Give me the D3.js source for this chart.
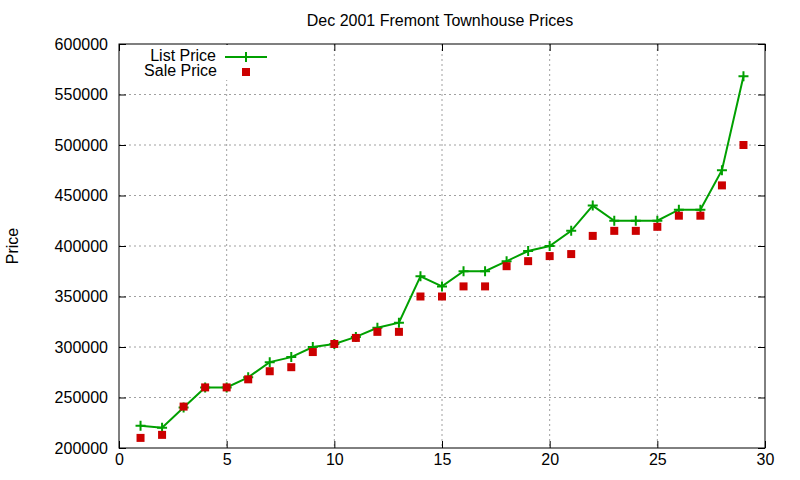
<!DOCTYPE html>
<html>
<head>
<meta charset="utf-8">
<script src="https://cdn.jsdelivr.net/npm/d3@7"></script>
<style>
body { margin: 0; background: #fff; }
text { font-family: "Liberation Sans", Arial, sans-serif; fill: #000; }
</style>
</head>
<body>
<div class="container"></div>
<script>
var days = d3.range(1, 30);
var listPrice = [222000, 220000, 240000, 260000, 260000, 270000, 285000, 290000, 300000, 303000,
    310000, 319000, 324000, 370000, 360000, 375000, 375000, 385000, 395000, 400000,
    415000, 440000, 425000, 425000, 425000, 436000, 436000, 475000, 568000];
var salePrice = [210000, 213000, 241000, 260000, 260000, 268000, 276000, 280000, 295000, 303000,
    309000, 315000, 315000, 350000, 350000, 360000, 360000, 380000, 385000, 390000,
    392000, 410000, 415000, 415000, 419000, 430000, 430000, 460000, 500000];
var xTicks = [0, 5, 10, 15, 20, 25, 30];
var yTicks = [200000, 250000, 300000, 350000, 400000, 450000, 500000, 550000, 600000];

var margin = { top: 44, right: 35, bottom: 32, left: 119 },
    width = 800 - margin.left - margin.right,
    height = 480 - margin.top - margin.bottom;

var svg = d3.select(".container")
    .append("svg")
    .attr("width", 800)
    .attr("height", 480);

var g = svg.append("g")
    .attr("transform", "translate(" + margin.left + "," + margin.top + ")");

var x = d3.scaleLinear().domain([0, 30]).range([0, width]);
var y = d3.scaleLinear().domain([200000, 600000]).range([height, 0]);

// grid
g.append("g")
    .selectAll("line")
    .data(xTicks.slice(1, -1))
    .enter()
    .append("line")
    .attr("x1", function (d) { return x(d); })
    .attr("x2", function (d) { return x(d); })
    .attr("y1", 0)
    .attr("y2", height)
    .attr("stroke", "#a0a0a0")
    .attr("stroke-dasharray", "2,3");
g.append("g")
    .selectAll("line")
    .data(yTicks.slice(1, -1))
    .enter()
    .append("line")
    .attr("x1", 0)
    .attr("x2", width)
    .attr("y1", function (d) { return y(d); })
    .attr("y2", function (d) { return y(d); })
    .attr("stroke", "#a0a0a0")
    .attr("stroke-dasharray", "2,3");

// axes with inward ticks
var ax = function (sel) { sel.select(".domain").remove(); sel.selectAll("text").style("font-size", "16px"); };
g.append("g")
    .attr("transform", "translate(0," + height + ")")
    .call(d3.axisBottom(x).tickValues(xTicks).tickSizeInner(-7).tickSizeOuter(0).tickPadding(6))
    .call(ax);
g.append("g")
    .call(d3.axisTop(x).tickValues(xTicks).tickSizeInner(-7).tickSizeOuter(0).tickFormat(""))
    .call(ax);
g.append("g")
    .call(d3.axisLeft(y).tickValues(yTicks).tickSizeInner(-7).tickSizeOuter(0).tickPadding(11).tickFormat(d3.format("d")))
    .call(ax);
g.append("g")
    .attr("transform", "translate(" + width + ",0)")
    .call(d3.axisRight(y).tickValues(yTicks).tickSizeInner(-7).tickSizeOuter(0).tickFormat(""))
    .call(ax);
g.selectAll(".tick line").attr("stroke", "#000");

// legend background masks the grid
g.append("rect")
    .attr("x", 20).attr("y", 1)
    .attr("width", 135).attr("height", 35)
    .attr("fill", "#fff");

g.append("rect")
    .attr("width", width).attr("height", height)
    .attr("fill", "none").attr("stroke", "#000").attr("stroke-width", 1);

var green = "#00a000", red = "#cc0000";

// list price line
g.append("path")
    .datum(days)
    .attr("fill", "none")
    .attr("stroke", green)
    .attr("stroke-width", 2)
    .attr("d", d3.line()
        .x(function (d) { return x(d); })
        .y(function (d, i) { return y(listPrice[i]); }));

g.append("g")
    .selectAll("path")
    .data(days)
    .enter()
    .append("path")
    .attr("d", "M-5,0H5M0,-5V5")
    .attr("transform", function (d, i) { return "translate(" + x(d) + "," + y(listPrice[i]) + ")"; })
    .attr("stroke", green)
    .attr("stroke-width", 2);

// sale price squares
g.append("g")
    .selectAll("rect")
    .data(days)
    .enter()
    .append("rect")
    .attr("x", function (d) { return x(d) - 4; })
    .attr("y", function (d, i) { return y(salePrice[i]) - 4; })
    .attr("width", 8)
    .attr("height", 8)
    .attr("fill", red);

// legend
var lg = svg.append("g").style("font-size", "16px");
lg.append("text").attr("x", 216).attr("y", 61).attr("text-anchor", "end").text("List Price");
lg.append("line").attr("x1", 225).attr("x2", 267).attr("y1", 57).attr("y2", 57)
    .attr("stroke", green).attr("stroke-width", 2);
lg.append("path").attr("d", "M246,52V62").attr("stroke", green).attr("stroke-width", 2);
lg.append("text").attr("x", 217).attr("y", 76).attr("text-anchor", "end").text("Sale Price");
lg.append("rect").attr("x", 242).attr("y", 68).attr("width", 8).attr("height", 8).attr("fill", red);

// title and y label
svg.append("text")
    .attr("x", 440).attr("y", 26)
    .attr("text-anchor", "middle")
    .style("font-size", "16px")
    .text("Dec 2001 Fremont Townhouse Prices");
svg.append("text")
    .attr("transform", "translate(18,246) rotate(-90)")
    .attr("text-anchor", "middle")
    .style("font-size", "16px")
    .text("Price");
</script>
</body>
</html>
